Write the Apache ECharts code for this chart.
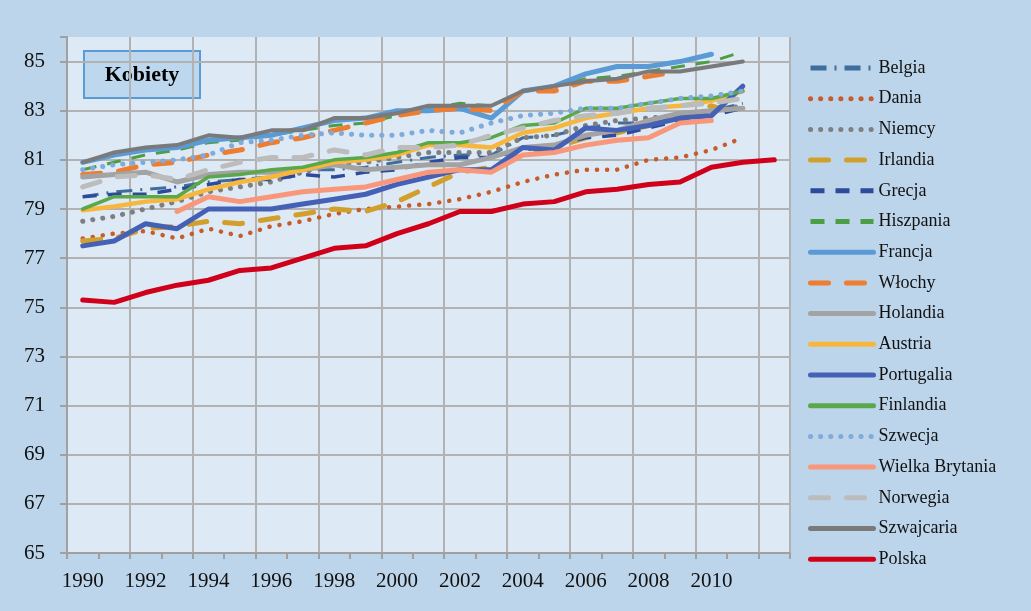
<!DOCTYPE html>
<html>
<head>
<meta charset="utf-8">
<script src="https://cdn.jsdelivr.net/npm/echarts@6/dist/echarts.min.js"></script>
<style>
html,body{margin:0;padding:0;background:#bcd5eb;}
#c{width:1031px;height:611px;}
</style>
</head>
<body>
<div id="c"></div>
<script>
const years = ['1990','1991','1992','1993','1994','1995','1996','1997','1998','1999','2000','2001','2002','2003','2004','2005','2006','2007','2008','2009','2010','2011','2012'];
const tickLabels = ['1990','1992','1994','1996','1998','2000','2002','2004','2006','2008','2010'];
const yTicks = [65,67,69,71,73,75,77,79,81,83,85];

const belgia = [79.5,79.7,79.8,79.9,80.1,80.2,80.3,80.6,80.6,80.7,80.9,81.1,81.2,81.2,81.9,82.0,82.3,82.5,82.5,82.7,83.0,83.3,null];
const dania = [77.8,78.0,78.1,77.8,78.2,77.9,78.3,78.5,78.8,79.0,79.1,79.2,79.4,79.7,80.1,80.4,80.6,80.6,81.0,81.1,81.4,81.9,null];
const niemcy = [78.5,78.7,79.0,79.3,79.7,79.9,80.1,80.5,80.8,80.9,81.1,81.3,81.3,81.3,81.9,82.0,82.4,82.6,82.7,82.8,83.0,83.2,null];
const irlandia = [77.7,77.8,78.2,78.3,78.5,78.4,78.6,78.8,79.0,78.9,79.3,79.9,80.5,80.7,81.2,81.5,81.9,82.1,82.4,82.7,83.2,82.8,null];
const grecja = [79.5,79.6,79.6,79.8,80.0,80.2,80.2,80.4,80.3,80.5,80.6,80.9,81.1,81.1,81.4,81.6,81.9,82.0,82.3,82.6,82.8,83.1,null];
const hiszpania = [80.6,80.9,81.2,81.4,81.7,81.8,82.0,82.2,82.4,82.5,82.8,83.1,83.3,83.2,83.8,84.0,84.3,84.4,84.6,84.8,85.0,85.4,null];
const francja = [80.9,81.2,81.4,81.5,81.8,81.9,82.0,82.3,82.6,82.7,83.0,83.0,83.1,82.7,83.8,84.0,84.5,84.8,84.8,85.0,85.3,null,null];
const wlochy = [80.4,80.5,80.8,80.9,81.2,81.4,81.7,81.9,82.2,82.5,82.8,83.0,83.1,83.0,83.8,83.8,84.2,84.2,84.4,84.6,null,null,null];
const holandia = [80.3,80.4,80.5,80.1,80.4,80.5,80.5,80.6,80.8,80.6,80.7,80.8,80.8,81.1,81.5,81.6,82.0,82.2,82.6,82.9,83.0,83.1,null];
const austria = [78.95,79.1,79.3,79.4,79.8,80.1,80.3,80.6,80.9,81.0,81.2,81.6,81.6,81.5,82.1,82.3,82.7,82.9,83.1,83.2,83.4,83.8,null];
const portugalia = [77.5,77.7,78.4,78.2,79.0,79.0,79.0,79.2,79.4,79.6,80.0,80.3,80.6,80.6,81.5,81.4,82.3,82.2,82.4,82.7,82.8,84.0,null];
const finlandia = [79.0,79.5,79.5,79.5,80.3,80.4,80.6,80.7,81.0,81.1,81.3,81.7,81.7,81.9,82.4,82.5,83.1,83.1,83.3,83.5,83.5,83.8,null];
const szwecja = [80.6,80.8,80.9,81.0,81.2,81.7,81.8,82.0,82.1,82.0,82.0,82.2,82.1,82.5,82.8,82.9,83.1,83.1,83.3,83.5,83.6,83.8,null];
const wielkaBrytania = [null,null,null,78.9,79.5,79.3,79.5,79.7,79.8,79.9,80.2,80.5,80.6,80.5,81.2,81.3,81.6,81.8,81.9,82.5,82.6,null,null];
const norwegia = [79.9,80.3,80.4,80.2,80.6,80.9,81.1,81.1,81.4,81.2,81.5,81.5,81.6,82.0,82.3,82.6,82.8,82.9,83.1,83.2,83.3,83.5,null];
const szwajcaria = [80.9,81.3,81.5,81.6,82.0,81.9,82.2,82.2,82.7,82.7,82.9,83.2,83.2,83.2,83.8,84.0,84.2,84.3,84.6,84.6,84.8,85.0,null];
const polska = [75.3,75.2,75.6,75.9,76.1,76.5,76.6,77.0,77.4,77.5,78.0,78.4,78.9,78.9,79.2,79.3,79.7,79.8,80.0,80.1,80.7,80.9,81.0];

const seriesDefs = [
  ['Belgia', belgia, '#3d6e9e', 3, [16,8,2,8], 'butt'],
  ['Dania', dania, '#c75b2a', 4.5, [0.1,10], 'round'],
  ['Niemcy', niemcy, '#7f7f7f', 5, [0.1,10], 'round'],
  ['Irlandia', irlandia, '#d39f2b', 5, [18,18], 'round'],
  ['Grecja', grecja, '#2e4a9a', 3.5, [14,11], 'butt'],
  ['Hiszpania', hiszpania, '#4c9e45', 3, [14,11], 'butt'],
  ['Francja', francja, '#5b9bd5', 5, 'solid', 'round'],
  ['Włochy', wlochy, '#ed7d31', 5, [18,18], 'round'],
  ['Holandia', holandia, '#a3a3a3', 5, 'solid', 'round'],
  ['Austria', austria, '#f6b73c', 4.5, 'solid', 'round'],
  ['Portugalia', portugalia, '#4461b6', 5, 'solid', 'round'],
  ['Finlandia', finlandia, '#59a84a', 3.5, 'solid', 'round'],
  ['Szwecja', szwecja, '#7eaadc', 5, [0.1,10], 'round'],
  ['Wielka Brytania', wielkaBrytania, '#f8977a', 5, 'solid', 'round'],
  ['Norwegia', norwegia, '#bcbcbc', 5, [18,18], 'round'],
  ['Szwajcaria', szwajcaria, '#7a7a7a', 4, 'solid', 'round'],
  ['Polska', polska, '#d1001a', 5, 'solid', 'round']
];

const series = seriesDefs.map(([name, data, color, w, type, cap]) => ({
  name, type: 'line', data, symbol: 'none', showSymbol: false,
  connectNulls: false, z: 2,
  lineStyle: { color, width: w, type, cap, join: 'round' },
  itemStyle: { color }
}));

const splitColors = yTicks.map(() => '#b2b2b2').concat(['rgba(0,0,0,0)']);

const chart = echarts.init(document.getElementById('c'), null, { renderer: 'canvas' });
chart.setOption({
  animation: false,
  backgroundColor: '#bcd5eb',
  grid: { left: 67, right: 241, top: 37, bottom: 58, show: true, backgroundColor: '#dde9f5', borderWidth: 0 },
  xAxis: {
    type: 'category', data: years, boundaryGap: true,
    axisLine: { lineStyle: { color: '#a0a0a0', width: 2 } },
    axisTick: { show: true, interval: 0, length: 6, lineStyle: { color: '#a0a0a0', width: 2 } },
    axisLabel: {
      interval: 0, margin: 18, color: '#111', fontFamily: 'Liberation Serif', fontSize: 21,
      formatter: v => tickLabels.includes(v) ? v : ''
    },
    splitLine: { show: true, interval: 1, lineStyle: { color: '#b2b2b2', width: 2 } }
  },
  yAxis: {
    type: 'value', min: 65, max: 86, interval: 2,
    axisLine: { show: true, lineStyle: { color: '#a0a0a0', width: 2 } },
    axisTick: { show: true, length: 7, lineStyle: { color: '#a0a0a0', width: 2 } },
    axisLabel: {
      margin: 22, color: '#111', fontFamily: 'Liberation Serif', fontSize: 21,
      formatter: v => yTicks.includes(v) ? String(v) : ''
    },
    splitLine: { show: true, lineStyle: { color: splitColors, width: 2 } }
  },
  legend: {
    orient: 'vertical', left: 803, top: 53,
    itemWidth: 63, itemHeight: 14, itemGap: 10.7,
    selectedMode: false,
    textStyle: { fontFamily: 'Liberation Serif', fontSize: 18, color: '#111', lineHeight: 20 },
    lineStyle: { width: 5 },
    itemStyle: { opacity: 0 },
    data: seriesDefs.map(d => d[0])
  },
  graphic: [{
    type: 'group', left: 83, top: 50, z: 100,
    children: [
      { type: 'rect', shape: { x: 0, y: 0, width: 116, height: 47 }, style: { fill: '#bdd7ee', stroke: '#5b9bd5', lineWidth: 2 } },
      { type: 'text', x: 58, y: 24, style: { text: 'Kobiety', font: 'bold 22px "Liberation Serif"', fill: '#000', align: 'center', verticalAlign: 'middle' } }
    ]
  }],
  series
});
</script>
</body>
</html>
